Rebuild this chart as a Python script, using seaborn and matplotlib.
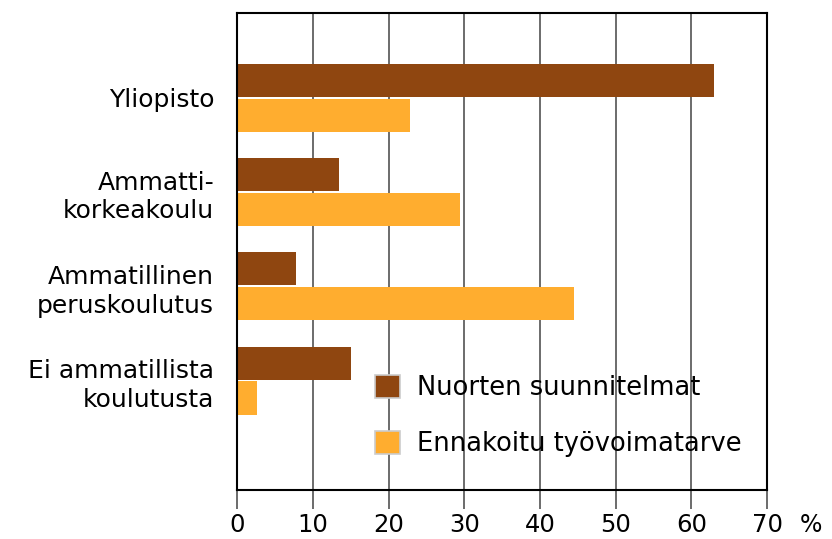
import pandas as pd
import matplotlib.pyplot as plt
import seaborn as sns

# Data
categories = ["Yliopisto", "Ammatti-\nkorkeakoulu", "Ammatillinen\nperuskoulutus",
              "Ei ammatillista\nkoulutusta"]
series_names = ["Nuorten suunnitelmat", "Ennakoitu työvoimatarve"]
nuorten = [63.0, 13.5, 7.8, 15.0]
ennakoitu = [22.8, 29.5, 44.5, 2.6]
x_ticks = [0, 10, 20, 30, 40, 50, 60, 70]

colors = ["#8F4610", "#FFAD2F"]

sns.set_style("white")
plt.rcParams['font.family'] = ['DejaVu Sans']
plt.rcParams['text.color'] = 'black'
plt.rcParams['xtick.color'] = 'black'
plt.rcParams['ytick.color'] = 'black'

df = pd.DataFrame({
    'kategoria': categories * 2,
    'sarja': [series_names[0]] * 4 + [series_names[1]] * 4,
    'arvo': nuorten + ennakoitu,
})

fig = plt.figure(figsize=(8.32, 5.39), dpi=100)
ax = fig.add_axes([0.285, 0.091, 0.637, 0.885])

sns.barplot(data=df, y='kategoria', x='arvo', hue='sarja', orient='h',
            palette=colors, saturation=1, width=0.74, gap=0.05, linewidth=0,
            ax=ax, zorder=2)

ax.set_xlim(0, 70)
ax.set_ylim(4.16, -0.9)
ax.set_xticks(x_ticks)
ax.set_xticklabels([str(t) for t in x_ticks])
ax.set_xlabel('')
ax.set_ylabel('')

ax.grid(axis='x', color='#444444', linewidth=1.1, zorder=0)
ax.set_axisbelow(True)
for s in ax.spines.values():
    s.set_color('black')
    s.set_linewidth(1.5)

ax.tick_params(axis='x', bottom=True, length=13.5, width=1.1, color='#444444',
               direction='out', pad=3, labelsize=17.5)
ax.tick_params(axis='y', left=False, labelsize=18, pad=13)
for lbl in ax.get_yticklabels():
    lbl.set_horizontalalignment('right')
    lbl.set_multialignment('right')
    lbl.set_linespacing(1.25)

ax.text(74.3, -0.048, '%', transform=ax.get_xaxis_transform(), fontsize=17,
        ha='left', va='top')

leg = ax.legend(loc='lower left', bbox_to_anchor=(0.216, 0.02), frameon=False,
                fontsize=18.5, handlelength=1.0, handleheight=1.0,
                labelspacing=1.15, handletextpad=0.65)
for h in leg.legend_handles:
    h.set_edgecolor('#cccccc')
    h.set_linewidth(1.2)

fig.savefig('out.png', dpi=100)
